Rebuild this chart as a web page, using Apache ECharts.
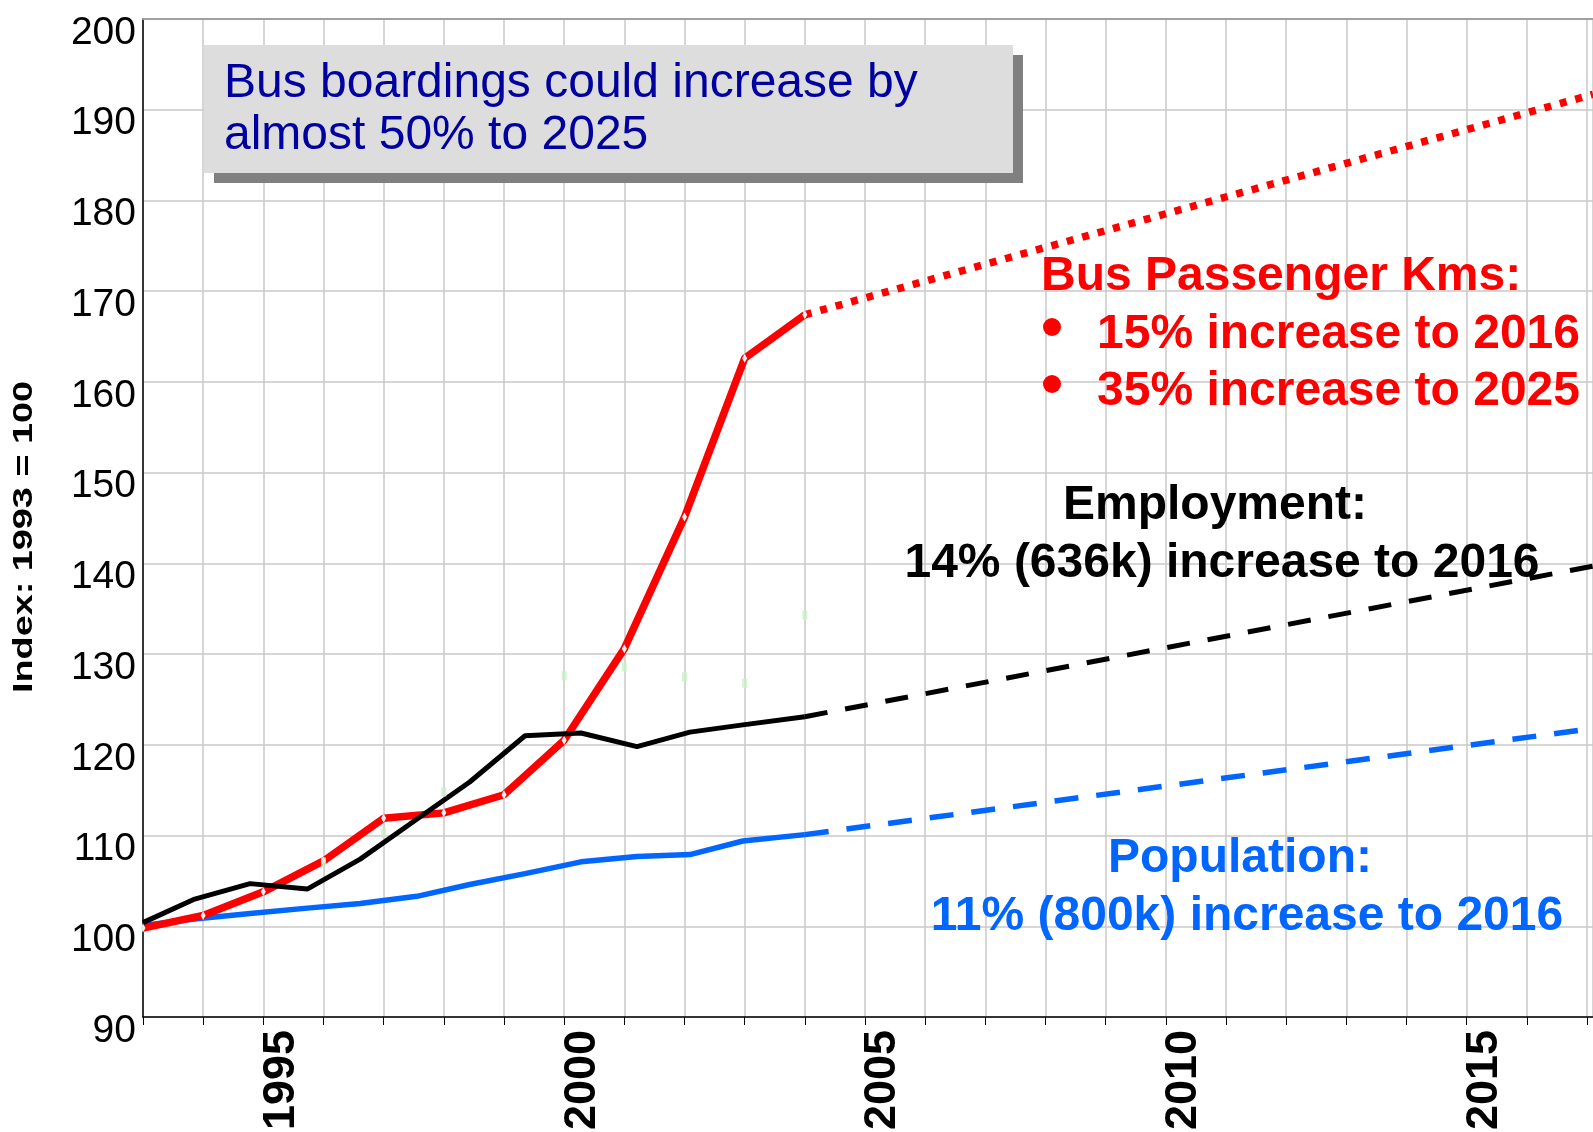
<!DOCTYPE html>
<html><head><meta charset="utf-8">
<script src="https://cdn.jsdelivr.net/npm/echarts@6/dist/echarts.min.js"></script>
<style>html,body{margin:0;padding:0;background:#fff}#c{width:1593px;height:1132px}</style>
</head><body><div id="c"></div>
<script>
// ---- data ----
const busYears = [1993, 1994, 1995, 1996, 1997, 1998, 1999, 2000, 2001, 2002, 2003, 2004];
const busKms = [99.8, 101.2, 103.8, 107.2, 111.9, 112.5, 114.5, 120.5, 130.6, 145.1, 162.6, 167.4];
const empYears = [1993, 1993.86, 1994.78, 1995.73, 1996.61, 1997.55, 1998.43, 1999.35, 2000.28, 2001.21, 2002.09, 2002.97, 2004];
const employment = [100.4, 103.0, 104.7, 104.1, 107.4, 111.8, 115.9, 121.0, 121.3, 119.8, 121.4, 122.2, 123.1];
const population = [100.1, 100.8, 101.4, 102.0, 102.5, 103.3, 104.6, 105.8, 107.1, 107.7, 107.9, 109.4, 110.1];
const projYears = [2004, 2017.1];
const busKmsProj = [167.4, 191.7];
const employmentProj = [123.1, 139.7];
const populationProj = [110.1, 121.8];
const faintYears = [1996, 1997, 1998, 2000, 2001, 2002, 2003, 2004];
const faintValues = [107.1, 110.3, 114.8, 127.6, 128.6, 127.5, 126.8, 134.3];
const yTitle = 'Index: 1993 = 100';
const boxText = ['Bus boardings could increase by', 'almost 50% to 2025'];
const busNote = ['Bus Passenger Kms:', '15% increase to 2016', '35% increase to 2025'];
const empNote = ['Employment:', '14% (636k) increase to 2016'];
const popNote = ['Population:', '11% (800k) increase to 2016'];

const pairs = (xs, ys) => xs.map((x, i) => [x, ys[i]]);
const FF = 'Liberation Sans, Arial, sans-serif';
const RED = '#ff0000', BLACK = '#000000', BLUE = '#0066ff';

const chart = echarts.init(document.getElementById('c'), null, {renderer: 'canvas'});
function txt(x, y, text, color, size, weight, align) {
  return {type: 'text', x: x, y: y, z: 100,
    style: {text: text, fill: color, font: (weight || 'bold') + ' ' + size + 'px ' + FF,
      align: align || 'left', verticalAlign: 'middle', textAlign: align || 'left', textVerticalAlign: 'middle'}};
}
const option = {
  animation: false,
  backgroundColor: '#ffffff',
  grid: {left: 143, right: 0, top: 19, bottom: 115, containLabel: false, outerBoundsMode: 'none'},
  xAxis: [{
    type: 'value', min: 1993, max: 2017.1, interval: 1,
    axisLine: {show: true, lineStyle: {color: '#000', width: 1.5}},
    axisTick: {show: true, length: 8, lineStyle: {color: '#000', width: 1}},
    splitLine: {show: true, lineStyle: {color: '#c8c8c8', width: 1.5}},
    axisLabel: {
      rotate: 90, margin: 13, fontSize: 45, fontWeight: 'bold', color: '#000', fontFamily: FF,
      verticalAlign: 'top', lineHeight: 36,
      formatter: v => (Math.abs(v - Math.round(v)) < 1e-6 && Math.round(v) % 5 === 0) ? String(Math.round(v)) : ''
    }
  }, {
    type: 'value', position: 'top', min: 1993, max: 2017.1, interval: 1,
    axisLine: {show: true, lineStyle: {color: '#a0a0a0', width: 2}},
    axisTick: {show: false}, axisLabel: {show: false}, splitLine: {show: false}
  }],
  yAxis: {
    type: 'value', min: 90, max: 200, interval: 10,
    axisLine: {show: true, lineStyle: {color: '#000', width: 1.5}},
    axisTick: {show: false},
    splitLine: {show: true, lineStyle: {color: '#c8c8c8', width: 1.5}},
    axisLabel: {fontSize: 39, color: '#000', fontFamily: FF, margin: 7, verticalAlign: 'top', lineHeight: 28}
  },
  series: [
    {type: 'line', name: 'Population', data: pairs(empYears, population), symbol: 'none',
      lineStyle: {color: BLUE, width: 5.5}, z: 2},
    {type: 'line', name: 'Population projection', data: pairs(projYears, populationProj), symbol: 'none',
      lineStyle: {color: BLUE, width: 5.5, type: [24, 18], cap: 'butt'}, z: 2},
    {type: 'line', name: 'Bus passenger kms', data: pairs(busYears, busKms), symbol: 'diamond', symbolSize: [5, 9],
      itemStyle: {color: '#dff3f3', borderWidth: 0}, lineStyle: {color: RED, width: 7.5}, z: 3},
    {type: 'line', name: 'Bus passenger kms projection', data: pairs(projYears, busKmsProj), symbol: 'none',
      lineStyle: {color: RED, width: 7.5, type: [7, 9], cap: 'butt'}, z: 3},
    {type: 'line', name: 'Employment', data: pairs(empYears, employment), symbol: 'none',
      lineStyle: {color: BLACK, width: 5}, z: 4},
    {type: 'line', name: 'Employment projection', data: pairs(projYears, employmentProj), symbol: 'none',
      lineStyle: {color: BLACK, width: 5, type: [23, 18], cap: 'butt'}, z: 4},
    {type: 'scatter', name: 'hidden', data: pairs(faintYears, faintValues), symbol: 'rect', symbolSize: [5, 9],
      itemStyle: {color: '#c8f0c8'}, z: 5}
  ],
  graphic: [
    {type: 'rect', shape: {x: 214, y: 55, width: 809, height: 128}, style: {fill: '#808080'}, z: 90},
    {type: 'rect', shape: {x: 204, y: 45, width: 809, height: 128}, style: {fill: '#dddddd'}, z: 91},
    txt(224, 84, boxText[0], '#0000a0', 48, 'normal'),
    txt(224, 136, boxText[1], '#0000a0', 48, 'normal'),
    txt(1041, 277, busNote[0], RED, 48),
    {type: 'circle', shape: {cx: 1052, cy: 327, r: 9}, style: {fill: RED}, z: 100},
    {type: 'circle', shape: {cx: 1052, cy: 384, r: 9}, style: {fill: RED}, z: 100},
    txt(1097, 335, busNote[1], RED, 48),
    txt(1097, 392, busNote[2], RED, 48),
    txt(1215, 506, empNote[0], BLACK, 48, 'bold', 'center'),
    txt(1222, 564, empNote[1], BLACK, 48, 'bold', 'center'),
    txt(1240, 859, popNote[0], BLUE, 48, 'bold', 'center'),
    txt(1247, 917, popNote[1], BLUE, 48, 'bold', 'center'),
    {type: 'text', x: 25, y: 537, rotation: Math.PI / 2, scaleX: 1.4, scaleY: 1, z: 100,
      style: {text: yTitle, fill: '#000', font: 'bold 27px ' + FF, align: 'center', verticalAlign: 'middle',
        textAlign: 'center', textVerticalAlign: 'middle'}}
  ]
};
chart.setOption(option);
</script></body></html>
